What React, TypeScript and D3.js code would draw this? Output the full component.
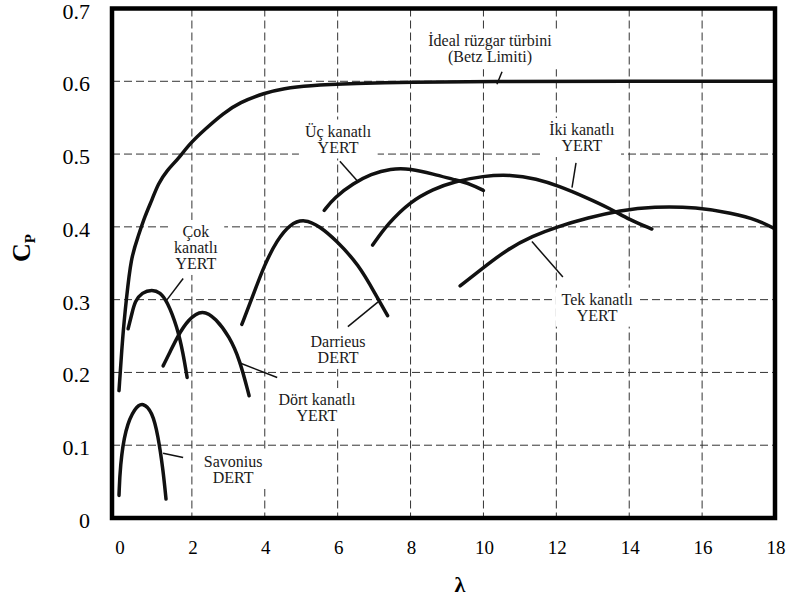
import React, { useEffect, useRef } from 'react';
import * as d3 from 'd3';

// axis ticks
const xTicks = [0, 2, 4, 6, 8, 10, 12, 14, 16, 18];
const yTicks = [0, 0.1, 0.2, 0.3, 0.4, 0.5, 0.6, 0.7];
const yTickLabels = ['0', '0.1', '0.2', '0.3', '0.4', '0.5', '0.6', '0.7'];

// power coefficient curves (tip speed ratio λ, Cp)
const betzLambda = [0, 0.1, 0.2, 0.33, 0.52, 0.72, 0.91, 1.07, 1.32, 1.62, 1.95, 2.38, 2.86, 3.31, 3.99, 4.53, 5.15, 6.5, 8, 10, 14, 18];
const betzCp = [0.175, 0.25, 0.3, 0.358, 0.386, 0.416, 0.4375, 0.459, 0.478, 0.493, 0.515, 0.535, 0.556, 0.571, 0.584, 0.59, 0.594, 0.597, 0.599, 0.6, 0.6, 0.6];

const cokLambda = [0.25, 0.36, 0.44, 0.63, 0.91, 1.13, 1.32, 1.6, 1.76, 1.87];
const cokCp = [0.26, 0.282, 0.298, 0.31, 0.314, 0.31, 0.298, 0.262, 0.226, 0.193];

const dortLambda = [1.21, 1.41, 1.6, 1.9, 2.29, 2.66, 3.03, 3.31, 3.57];
const dortCp = [0.209, 0.229, 0.249, 0.273, 0.287, 0.274, 0.249, 0.218, 0.168];

const savoniusLambda = [0, 0.03, 0.17, 0.44, 0.66, 0.91, 1.07, 1.21, 1.29];
const savoniusCp = [0.031, 0.071, 0.123, 0.152, 0.159, 0.146, 0.114, 0.066, 0.026];

const darrieusLambda = [3.37, 3.65, 3.99, 4.34, 4.69, 5.09, 5.5, 5.95, 6.58, 7.04, 7.37];
const darrieusCp = [0.266, 0.302, 0.348, 0.382, 0.404, 0.411, 0.401, 0.382, 0.348, 0.307, 0.278];

const ucLambda = [5.63, 5.9, 6.44, 6.91, 7.45, 8.0, 8.63, 9.18, 9.65, 10.0];
const ucCp = [0.4225, 0.44, 0.46, 0.4725, 0.48, 0.48, 0.4725, 0.465, 0.459, 0.45];

const ikiLambda = [6.96, 7.37, 8.0, 8.63, 9.18, 10.0, 10.73, 11.46, 12.07, 12.79, 13.48, 14.0, 14.62];
const ikiCp = [0.375, 0.404, 0.435, 0.452, 0.462, 0.47, 0.472, 0.466, 0.456, 0.441, 0.425, 0.41, 0.397];

const tekLambda = [9.36, 10.0, 10.65, 11.35, 12.02, 12.87, 13.75, 14.66, 15.87, 16.8, 17.56, 18.0];
const tekCp = [0.319, 0.344, 0.369, 0.3875, 0.4, 0.4125, 0.4225, 0.428, 0.427, 0.419, 0.409, 0.397];

const seriesLambda = [betzLambda, cokLambda, dortLambda, savoniusLambda, darrieusLambda, ucLambda, ikiLambda, tekLambda];
const seriesCp = [betzCp, cokCp, dortCp, savoniusCp, darrieusCp, ucCp, ikiCp, tekCp];

// curve labels
const labelLines = [
  ['İdeal rüzgar türbini', '(Betz Limiti)'],
  ['Üç kanatlı', 'YERT'],
  ['İki kanatlı', 'YERT'],
  ['Çok', 'kanatlı', 'YERT'],
  ['Tek kanatlı', 'YERT'],
  ['Darrieus', 'DERT'],
  ['Dört kanatlı', 'YERT'],
  ['Savonius', 'DERT'],
];
// label centre (λ, Cp of first line) and leader line ends
const labelAt = [[10.18, 0.655], [6.01, 0.531], [12.7, 0.533], [2.11, 0.393], [13.12, 0.3], [6.01, 0.242], [5.43, 0.162], [3.13, 0.077]];
const leaders = [
  [10.51, 0.613, 10.37, 0.596],
  [6.06, 0.49, 6.56, 0.462],
  [12.54, 0.488, 12.43, 0.454],
  [1.76, 0.329, 1.32, 0.3],
  [11.33, 0.38, 12.18, 0.331],
  [6.28, 0.263, 7.11, 0.297],
  [3.32, 0.213, 4.34, 0.193],
  [1.21, 0.089, 1.76, 0.083],
];

const W = 797;
const H = 601;
const serif = "'Liberation Serif', 'Times New Roman', serif";

export default function App() {
  const svgRef = useRef<SVGSVGElement>(null);

  useEffect(() => {
    const svg = d3.select(svgRef.current);
    svg.selectAll('*').remove();

    const x = d3.scaleLinear().domain([0, 18]).range([119, 775]);
    const y = d3.scaleLinear().domain([0, 0.7]).range([518, 8.5]);

    svg.append('rect').attr('width', W).attr('height', H).attr('fill', '#fff');

    // grid
    const grid = svg.append('g').attr('stroke', '#333').attr('stroke-width', 1).attr('stroke-dasharray', '8,4');
    grid.selectAll('line.v')
      .data(xTicks.slice(1, -1))
      .enter()
      .append('line')
      .attr('x1', d => x(d)).attr('x2', d => x(d))
      .attr('y1', y(0.7)).attr('y2', y(0));
    grid.selectAll('line.h')
      .data(yTicks.slice(1, -1))
      .enter()
      .append('line')
      .attr('x1', x(0) - 7).attr('x2', x(18))
      .attr('y1', d => y(d)).attr('y2', d => y(d));

    // labels (white boxes cut the grid)
    const labelG = svg.append('g');
    const texts = labelLines.map((lines, i) => {
      const t = labelG.append('text')
        .style('font-family', serif)
        .style('font-size', '16px')
        .attr('fill', '#1a1a1a')
        .attr('text-anchor', 'middle');
      lines.forEach((s, j) => {
        t.append('tspan')
          .attr('x', x(labelAt[i][0]))
          .attr('y', y(labelAt[i][1]) + j * 16 + 5)
          .text(s);
      });
      return t;
    });
    texts.forEach(t => {
      const b = (t.node() as SVGTextElement).getBBox();
      labelG.insert('rect', 'text')
        .attr('x', b.x - 6).attr('y', b.y - 3)
        .attr('width', b.width + 12).attr('height', b.height + 6)
        .attr('fill', '#fff');
    });

    // curves
    const line = d3.line<[number, number]>()
      .x(d => x(d[0]))
      .y(d => y(d[1]))
      .curve(d3.curveBasis);
    seriesLambda.forEach((lam, i) => {
      const pts = lam.map((l, k) => [l, seriesCp[i][k]] as [number, number]);
      svg.append('path')
        .attr('d', line(pts))
        .attr('fill', 'none')
        .attr('stroke', '#111')
        .attr('stroke-width', 3.5)
        .attr('stroke-linecap', 'round')
        .attr('stroke-linejoin', 'round');
    });

    // leader lines
    svg.selectAll('line.leader')
      .data(leaders)
      .enter()
      .append('line')
      .attr('x1', d => x(d[0])).attr('y1', d => y(d[1]))
      .attr('x2', d => x(d[2])).attr('y2', d => y(d[3]))
      .attr('stroke', '#111')
      .attr('stroke-width', 1.5);

    // frame
    svg.append('rect')
      .attr('x', x(0) - 7).attr('y', y(0.7))
      .attr('width', x(18) - x(0) + 7).attr('height', y(0) - y(0.7))
      .attr('fill', 'none')
      .attr('stroke', '#000')
      .attr('stroke-width', 4.5);

    // tick labels
    svg.selectAll('text.xt')
      .data(xTicks)
      .enter()
      .append('text')
      .attr('x', d => x(d) + 1)
      .attr('y', 554)
      .attr('text-anchor', 'middle')
      .style('font-family', serif)
      .style('font-size', '19px')
      .text(d => d);
    svg.selectAll('text.yt')
      .data(yTicks)
      .enter()
      .append('text')
      .attr('x', 90)
      .attr('y', d => y(d) + 10)
      .attr('text-anchor', 'end')
      .style('font-family', serif)
      .style('font-size', '22px')
      .text((d, i) => yTickLabels[i]);

    // axis titles
    svg.append('text')
      .attr('x', 460)
      .attr('y', 592)
      .attr('text-anchor', 'middle')
      .style('font-family', serif)
      .style('font-weight', 'bold')
      .style('font-size', '22px')
      .text('λ');
    const cp = svg.append('text')
      .attr('transform', 'translate(30,248) rotate(-90)')
      .attr('text-anchor', 'middle')
      .style('font-family', serif)
      .style('font-weight', 'bold')
      .style('font-size', '26px');
    cp.append('tspan').text('C');
    cp.append('tspan').style('font-size', '15px').attr('dy', 5).text('P');
  }, []);

  return (
    <svg ref={svgRef} width={W} height={H} style={{ position: 'absolute', left: 0, top: 0, display: 'block' }} />
  );
}
